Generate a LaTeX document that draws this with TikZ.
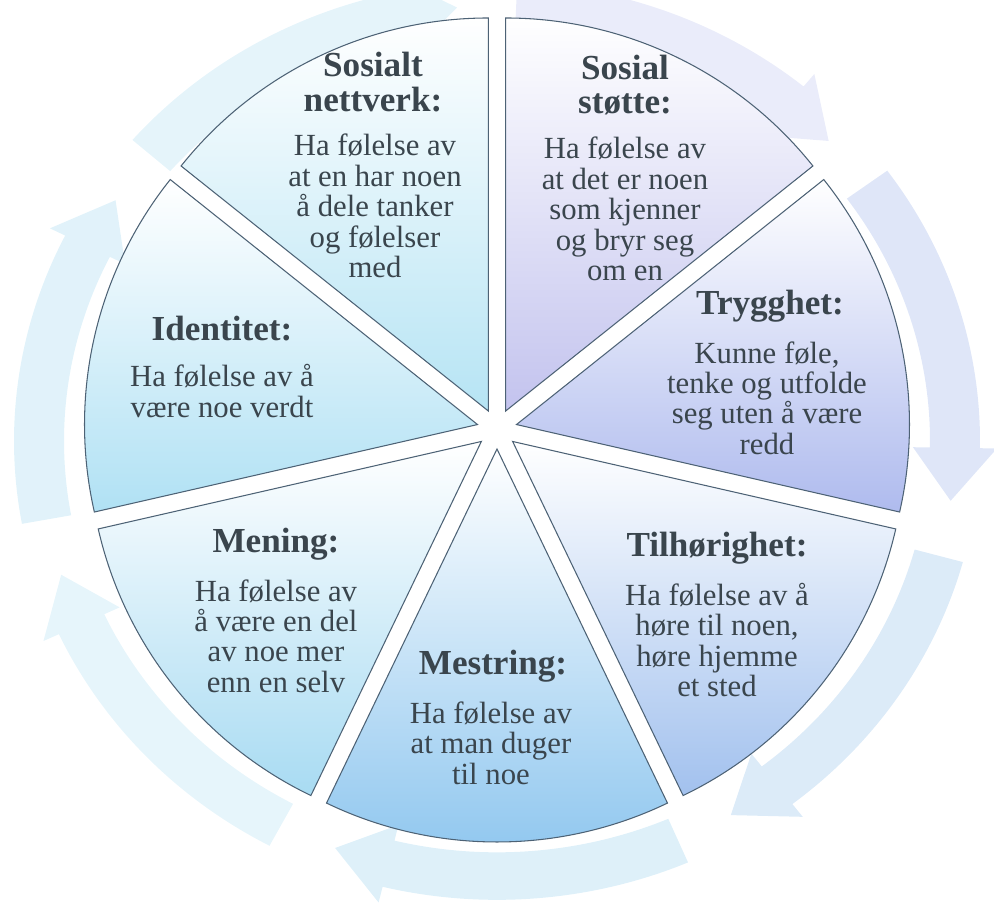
\documentclass[tikz,border=0pt]{standalone}
\usepackage{fontspec}
\setmainfont{Liberation Serif}
\usetikzlibrary{positioning}

\definecolor{linje}{HTML}{4D6275}
\definecolor{tekstfarge}{HTML}{3A454D}
\definecolor{ring1}{HTML}{D3ECF7}
\definecolor{ring2}{HTML}{DCE0F6}
\definecolor{ring3}{HTML}{CAD6F3}
\definecolor{ring4}{HTML}{C4DDF3}
\definecolor{ring5}{HTML}{C8E6F5}
\definecolor{ring6}{HTML}{D6EEF8}
\definecolor{ring7}{HTML}{CDEAF6}
\definecolor{nettverkfarge}{HTML}{B6E4F4}
\definecolor{stoettefarge}{HTML}{C3C3EE}
\definecolor{trygghetfarge}{HTML}{AFBBEE}
\definecolor{tilhoerfarge}{HTML}{A2C1EE}
\definecolor{mestringfarge}{HTML}{90C7EF}
\definecolor{meningfarge}{HTML}{A8DBF2}
\definecolor{identitetfarge}{HTML}{B0E1F4}

\begin{document}
\begin{tikzpicture}[x=0.02cm,y=0.02cm,
        sektor/.style={draw=linje, line width=0.6pt, top color=white},
        pil/.style={draw=none, fill opacity=0.6},
        tittel/.style={font=\bfseries\fontsize{20}{19.5}\selectfont, text=tekstfarge, align=center, inner sep=0pt},
        brodtekst/.style={font=\fontsize{17.5}{17.3}\selectfont, text=tekstfarge, align=center, inner sep=0pt}]
            \useasboundingbox (-497,-475) rectangle (497,429);
%
            % ring
            \begin{scope}[shift={(0,-12)}, yscale=0.95]
            \fill[pil, fill=ring1] (139:483) arc[start angle=139, end angle=102, radius=483] -- (102:500) -- (95:458) -- (102:416) -- (102:433) arc[start angle=102, end angle=139, radius=433] -- cycle;
            \fill[pil, fill=ring2] (87.6:483) arc[start angle=87.6, end angle=50.6, radius=483] -- (50.6:500) -- (43.6:458) -- (50.6:416) -- (50.6:433) arc[start angle=50.6, end angle=87.6, radius=433] -- cycle;
            \fill[pil, fill=ring3] (36.1:483) arc[start angle=36.1, end angle=-0.9, radius=483] -- (-0.9:500) -- (-7.9:458) -- (-0.9:416) -- (-0.9:433) arc[start angle=-0.9, end angle=36.1, radius=433] -- cycle;
            \fill[pil, fill=ring4] (-15.3:483) arc[start angle=-15.3, end angle=-52.3, radius=483] -- (-52.3:500) -- (-59.3:458) -- (-52.3:416) -- (-52.3:433) arc[start angle=-52.3, end angle=-15.3, radius=433] -- cycle;
            \fill[pil, fill=ring5] (-66.7:483) arc[start angle=-66.7, end angle=-103.7, radius=483] -- (-103.7:500) -- (-110.7:458) -- (-103.7:416) -- (-103.7:433) arc[start angle=-103.7, end angle=-66.7, radius=433] -- cycle;
            \fill[pil, fill=ring6] (-118.1:483) arc[start angle=-118.1, end angle=-155.1, radius=483] -- (-155.1:500) -- (-162.1:458) -- (-155.1:416) -- (-155.1:433) arc[start angle=-155.1, end angle=-118.1, radius=433] -- cycle;
            \fill[pil, fill=ring7] (190.4:483) arc[start angle=190.4, end angle=153.4, radius=483] -- (153.4:500) -- (146.4:458) -- (153.4:416) -- (153.4:433) arc[start angle=153.4, end angle=190.4, radius=433] -- cycle;
            \end{scope}
%
            % sectors
            \draw[sektor, bottom color=nettverkfarge] (115.71:20) -- +(141.43:393) arc[start angle=141.43, end angle=90, radius=393] -- cycle;
            \draw[sektor, bottom color=stoettefarge] (64.29:20) -- +(90:393) arc[start angle=90, end angle=38.57, radius=393] -- cycle;
            \draw[sektor, bottom color=trygghetfarge] (12.86:20) -- +(38.57:393) arc[start angle=38.57, end angle=-12.86, radius=393] -- cycle;
            \draw[sektor, bottom color=tilhoerfarge] (-38.57:20) -- +(-12.86:393) arc[start angle=-12.86, end angle=-64.29, radius=393] -- cycle;
            \draw[sektor, bottom color=mestringfarge] (-90:20) -- +(-64.29:393) arc[start angle=-64.29, end angle=-115.71, radius=393] -- cycle;
            \draw[sektor, bottom color=meningfarge] (-141.43:20) -- +(-115.71:393) arc[start angle=-115.71, end angle=-167.14, radius=393] -- cycle;
            \draw[sektor, bottom color=identitetfarge] (167.14:20) -- +(192.86:393) arc[start angle=192.86, end angle=141.43, radius=393] -- cycle;
%
            % labels
            \node[tittel] (nettverk-t) at (-124,347) {Sosialt\\nettverk:};
            \node[brodtekst] (nettverk) at (-122,223) {Ha følelse av\\at en har noen\\å dele tanker\\og følelser\\med};
            \node[tittel] (stoette-t) at (128,344) {Sosial\\støtte:};
            \node[brodtekst] (stoette) at (128,220) {Ha følelse av\\at det er noen\\som kjenner\\og bryr seg\\om en};
            \node[tittel] (trygghet-t) at (273,123) {Trygghet:};
            \node[brodtekst] (trygghet) at (270,31) {Kunne føle,\\tenke og utfolde\\seg uten å være\\redd};
            \node[tittel] (tilhoer-t) at (220,-119) {Tilhørighet:};
            \node[brodtekst] (tilhoer) at (220,-211) {Ha følelse av å\\høre til noen,\\høre hjemme\\et sted};
            \node[tittel] (mestring-t) at (-4,-237) {Mestring:};
            \node[brodtekst] (mestring) at (-6,-314) {Ha følelse av\\at man duger\\til noe};
            \node[tittel] (mening-t) at (-221,-115) {Mening:};
            \node[brodtekst] (mening) at (-221,-207) {Ha følelse av\\å være en del\\av noe mer\\enn en selv};
            \node[tittel] (identitet-t) at (-275,100) {Identitet:};
            \node[brodtekst] (identitet) at (-275,38) {Ha følelse av å\\være noe verdt};
        \end{tikzpicture}
\end{document}
